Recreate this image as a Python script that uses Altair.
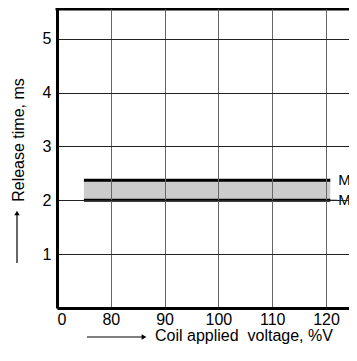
import altair as alt
import pandas as pd

# ---- data ----
x_ticks = [70, 80, 90, 100, 110, 120]
y_ticks = [1, 2, 3, 4, 5]
band_start = [75]
band_end = [120.8]
max_time = [2.37]
min_time = [2.0]
label_text = ["Max.", "Min."]
label_value = [2.37, 2.0]

W, H = 292, 299
FONT = "Liberation Sans"
xs = alt.Scale(domain=[70, 70 + W / 5.38], nice=False, zero=False)
ys = alt.Scale(domain=[0, 5.55], nice=False, zero=False)

band_df = pd.DataFrame({"x": band_start, "x2": band_end, "lo": min_time, "hi": max_time})
lab_df = pd.DataFrame({"t": label_text, "y": label_value, "x": [122.3, 122.3]})
one = pd.DataFrame({"a": [0]})

band = alt.Chart(band_df).mark_rect(fill="#cccccc").encode(
    x=alt.X("x:Q", scale=xs, title=None,
            axis=alt.Axis(values=x_ticks, grid=True, gridColor="#666666",
                          labelExpr="datum.value == 70 ? '0' : datum.label",
                          labelPadding=3, zindex=1)),
    x2="x2:Q",
    y=alt.Y("lo:Q", scale=ys, title=None,
            axis=alt.Axis(values=y_ticks, grid=True, gridColor="#222222",
                          format="d", labelPadding=6, zindex=1)),
    y2="hi:Q",
)

max_line = alt.Chart(band_df).mark_rule(color="black", strokeWidth=3).encode(
    x=alt.X("x:Q", scale=xs), x2="x2:Q", y=alt.Y("hi:Q", scale=ys))
min_line = alt.Chart(band_df).mark_rule(color="black", strokeWidth=3).encode(
    x=alt.X("x:Q", scale=xs), x2="x2:Q", y=alt.Y("lo:Q", scale=ys))
min_tick = alt.Chart(band_df).mark_rule(color="black", strokeWidth=1).encode(
    x=alt.X("x2:Q", scale=xs), x2=alt.datum(122.1), y=alt.Y("lo:Q", scale=ys))

labels = alt.Chart(lab_df).mark_text(align="left", baseline="middle", font=FONT,
                                     fontSize=15, color="black").encode(
    x=alt.X("x:Q", scale=xs), y=alt.Y("y:Q", scale=ys), text="t:N")

top_border = alt.Chart(one).mark_rule(color="black", strokeWidth=3).encode(
    x=alt.value(-1.5), x2=alt.value(W), y=alt.value(0))

# axis titles with arrows
ytitle = alt.Chart(one).mark_text(angle=270, align="center", baseline="middle",
                                  font=FONT, fontSize=16, color="black").encode(
    x=alt.value(-38), y=alt.value(131), text=alt.value("Release time, ms"))
yarrow = alt.Chart(one).mark_rule(color="black", strokeWidth=1.2).encode(
    x=alt.value(-40), y=alt.value(254), y2=alt.value(205))
yhead = alt.Chart(one).mark_point(shape="triangle-up", filled=True, color="black",
                                  size=30, opacity=1).encode(
    x=alt.value(-40), y=alt.value(204))

xtitle = alt.Chart(one).mark_text(align="left", baseline="middle", font=FONT,
                                  fontSize=16, color="black").encode(
    x=alt.value(98), y=alt.value(327), text=alt.value("Coil applied\u00a0 voltage, %V"))
xarrow = alt.Chart(one).mark_rule(color="black", strokeWidth=1.2).encode(
    x=alt.value(30), x2=alt.value(85), y=alt.value(328))
xhead = alt.Chart(one).mark_point(shape="triangle-right", filled=True, color="black",
                                  size=30, opacity=1).encode(
    x=alt.value(87), y=alt.value(328))

chart = alt.layer(
    band, max_line, min_line, min_tick, labels, top_border,
    ytitle, yarrow, yhead, xtitle, xarrow, xhead
).properties(
    width=W, height=H,
    autosize=alt.AutoSizeParams(type="none"),
    padding={"left": 49, "top": 1, "right": 0, "bottom": 37},
).configure_view(stroke="transparent", strokeWidth=0).configure_axis(
    domainColor="black", domainWidth=3, ticks=False,
    labelFont=FONT, labelFontSize=16, labelColor="black",
    gridWidth=1, gridOpacity=1,
)

chart.save("out.html", embed_options={"renderer": "svg", "actions": False})
